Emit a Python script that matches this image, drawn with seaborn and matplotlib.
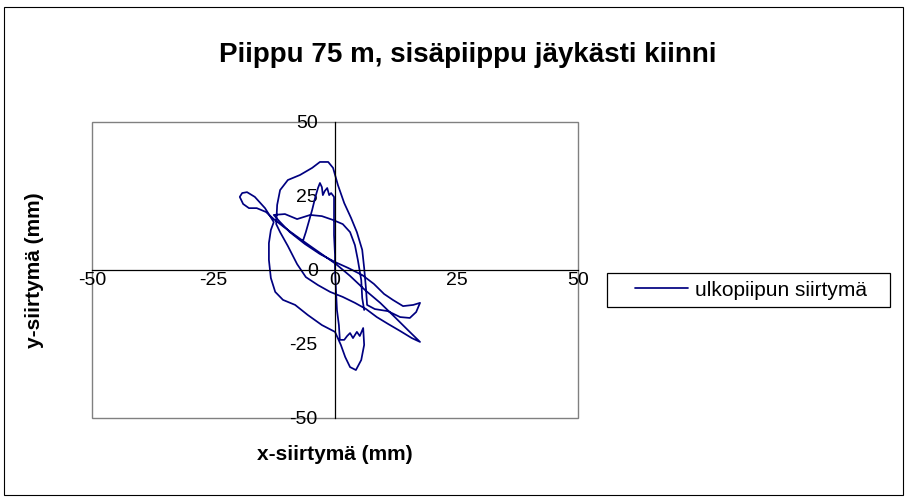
import matplotlib
matplotlib.use("Agg")
import matplotlib.pyplot as plt
from matplotlib.patches import Rectangle
import seaborn as sns
import pandas as pd

# Outer-pipe displacement trace (mm), in drawing order
x_mm = [
    -6.6, -6.0, -5.4, -4.7, -4.1, -3.5, -3.1, -2.7, -2.5, -2.1, -1.6, -1.2, -0.8, -0.2,
    -0.2, -0.2, 0.0, 0.0, 0.2, 0.4, 0.8, 1.0,
    1.9, 2.5, 3.1, 3.7, 4.5, 5.1, 5.8,
    6.0, 5.4, 4.3, 3.1, 2.1, 1.2,
    0.0, -2.7, -5.6, -8.2, -10.7, -12.3, -13.2, -13.6, -13.6, -13.2, -12.6,
    -14.4, -16.5, -18.1, -19.1, -19.6, -18.9, -17.7, -16.1, -14.2, -12.6,
    -10.5, -8.0, -5.1, -2.5, 0.2, 3.1, 6.2, 9.3, 12.3, 15.0, 17.5,
    15.8, 13.4, 10.9, 8.6, 6.4, 4.1, 1.6, -1.0, -3.5, -6.0, -7.8, -9.7, -11.3, -12.1,
    -11.9, -11.3, -9.7, -7.2, -4.7, -3.1, -1.4, -0.4, 0.6, 1.9, 3.3, 4.5, 5.6, 6.0, 6.4, 6.6,
    8.2, 10.9, 13.4, 15.4, 16.7, 17.5, 16.1, 14.0, 11.9, 10.1, 8.0, 5.6, 2.7, 0.0, -3.1,
    -6.2, -9.3, -11.3, -12.6,
    -10.3, -7.8, -5.1, -2.7, -0.4, 1.6, 3.1, 4.1, 4.7, 5.4, 5.6, 6.0,
]
y_mm = [
    9.8, 12.8, 16.2, 20.3, 24.3, 27.7, 29.4, 28.0, 25.3, 26.7, 27.7, 25.3, 26.0, 24.7,
    18.6, 11.8, 5.1, 0.0, -6.8, -13.5, -18.6, -23.6,
    -23.6, -22.3, -21.3, -23.0, -20.9, -22.3, -19.6,
    -25.3, -30.4, -33.8, -32.8, -29.4, -25.3,
    -20.9, -18.6, -15.2, -11.8, -10.1, -7.4, -2.7, 3.4, 9.1, 13.5, 16.2,
    20.9, 24.7, 26.3, 26.0, 24.7, 22.3, 20.9, 20.9, 19.6, 17.2,
    14.5, 11.5, 8.1, 5.1, 2.0, -2.0, -6.8, -11.1, -15.9, -20.3, -24.3,
    -23.0, -20.6, -18.2, -15.9, -13.2, -11.1, -9.1, -7.4, -5.1, -2.4, 2.0, 8.1, 12.8, 15.5,
    22.0, 27.0, 30.4, 32.1, 34.5, 36.5, 36.5, 34.5, 28.7, 22.6, 17.6, 12.8, 6.8, 0.7, -6.8, -11.8,
    -13.2, -13.9, -15.9, -16.2, -14.2, -11.1, -11.8, -12.2, -10.1, -8.1, -4.7, -1.7, 0.7, 2.7, 5.4,
    8.8, 12.8, 16.2, 18.6,
    18.9, 17.2, 18.6, 18.2, 16.9, 15.5, 12.8, 8.4, 3.4, -3.4, -9.5, -13.5,
]

tick_values = [-50, -25, 0, 25, 50]
title_text = "Piippu 75 m, sisäpiippu jäykästi kiinni"
x_label = "x-siirtymä (mm)"
y_label = "y-siirtymä (mm)"
series_name = "ulkopiipun siirtymä"

sns.set_theme(style="white")
plt.rcParams["font.family"] = ["Liberation Sans", "DejaVu Sans"]
plt.rcParams["text.color"] = "black"

df = pd.DataFrame({"x": x_mm, "y": y_mm})

W, H = 907, 500
fig = plt.figure(figsize=(W / 100, H / 100), dpi=100)
fig.patch.set_facecolor("white")

# Chart-area frame
fig.add_artist(Rectangle((4 / W, 1 - 495 / H), 899 / W, 488 / H, transform=fig.transFigure,
                         fill=False, edgecolor="#000000", linewidth=0.8))

ax = fig.add_axes([92 / W, 1 - 418 / H, 486 / W, 296 / H])
sns.lineplot(data=df, x="x", y="y", sort=False, estimator=None, ax=ax,
             color="#000080", linewidth=1.25, label=series_name)

ax.set_xlim(-50, 50)
ax.set_ylim(-50, 50)
ax.set_xticks(tick_values)
ax.set_yticks(tick_values)
ax.set_xticklabels([str(v) for v in tick_values])
ax.set_yticklabels([str(v) for v in tick_values])

# Axes crossing at the origin, gray plot-area border
for side in ("left", "bottom"):
    ax.spines[side].set_position("zero")
    ax.spines[side].set_color("black")
    ax.spines[side].set_linewidth(0.9)
for side in ("top", "right"):
    ax.spines[side].set_visible(False)
ax.add_patch(Rectangle((0, 0), 1, 1, transform=ax.transAxes, fill=False,
                       edgecolor="#808080", linewidth=1.0, clip_on=False, zorder=0))

ax.tick_params(axis="both", direction="inout", length=9, width=0.9, color="black",
               labelsize=14, labelcolor="black")
ax.tick_params(axis="y", pad=8)
ax.tick_params(axis="x", pad=-3)
ax.set_xlabel("")
ax.set_ylabel("")

fig.text(468 / W, 1 - 55 / H, title_text, ha="center", va="center",
         fontsize=20, fontweight="bold", color="black")
fig.text(335 / W, 1 - 455 / H, x_label, ha="center", va="center",
         fontsize=15, fontweight="bold", color="black")
fig.text(35 / W, 1 - 270 / H, y_label, ha="center", va="center", rotation=90,
         fontsize=15, fontweight="bold", color="black")

# Legend entry without its own frame; a separate box is drawn around it
leg = ax.legend(loc="center left", bbox_to_anchor=(635 / W, 1 - 290 / H),
                bbox_transform=fig.transFigure, frameon=False,
                fontsize=15, handlelength=2.55, handletextpad=0.35,
                borderpad=0, borderaxespad=0)
for t in leg.get_texts():
    t.set_color("black")
fig.add_artist(Rectangle((607 / W, 1 - 307 / H), 283 / W, 34 / H, transform=fig.transFigure,
                         fill=False, edgecolor="black", linewidth=0.9))

fig.savefig("out.png", dpi=100, facecolor="white")
